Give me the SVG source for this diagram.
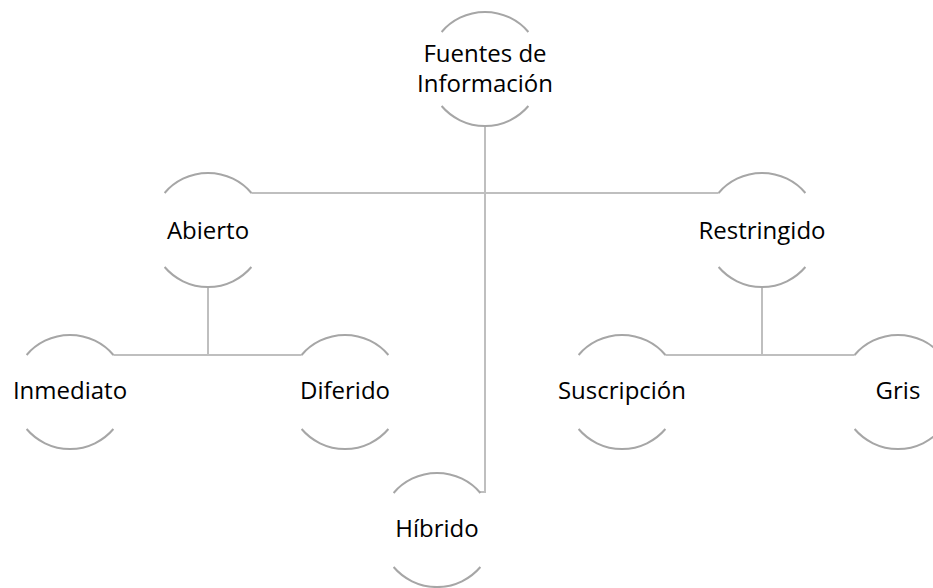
<svg xmlns="http://www.w3.org/2000/svg" xmlns:xlink="http://www.w3.org/1999/xlink" width="933" height="588" viewBox="0 0 933 588">
<style>
.arc{fill:none;stroke:#a6a6a6;stroke-width:2}
.con{fill:none;stroke:#bfbfbf;stroke-width:2}
.t{font-family:"Open Sans","Liberation Sans",sans-serif;font-size:24px;fill:#000;text-anchor:middle}
</style>
<defs>
<path id="ring" d="M-43.4,-37 A57,57 0 0 1 43.4,-37 M-43.4,37 A57,57 0 0 0 43.4,37"/>
</defs>
<rect width="933" height="588" fill="#fff"/>
<g id="connectors">
<path class="con" d="M485,126 V492 H480"/>
<path class="con" d="M251.4,193 H718.6"/>
<path class="con" d="M208,288 V355 M113.4,355 H301.6"/>
<path class="con" d="M762,288 V355 M665.4,355 H854.6"/>
</g>
<g id="fuentes"><use xlink:href="#ring" class="arc" x="485" y="69"/><text class="t" x="485" y="62">Fuentes de</text><text class="t" x="485" y="92">Información</text></g>
<g id="abierto"><use xlink:href="#ring" class="arc" x="208" y="230"/><text class="t" x="208" y="239">Abierto</text></g>
<g id="restringido"><use xlink:href="#ring" class="arc" x="762" y="230"/><text class="t" x="762" y="239">Restringido</text></g>
<g id="inmediato"><use xlink:href="#ring" class="arc" x="70" y="392"/><text class="t" x="70" y="399">Inmediato</text></g>
<g id="diferido"><use xlink:href="#ring" class="arc" x="345" y="392"/><text class="t" x="345" y="399">Diferido</text></g>
<g id="suscripcion"><use xlink:href="#ring" class="arc" x="622" y="392"/><text class="t" x="622" y="399">Suscripción</text></g>
<g id="gris"><use xlink:href="#ring" class="arc" x="898" y="392"/><text class="t" x="898" y="399">Gris</text></g>
<g id="hibrido"><use xlink:href="#ring" class="arc" x="437" y="530"/><text class="t" x="437" y="537">Híbrido</text></g>
</svg>
